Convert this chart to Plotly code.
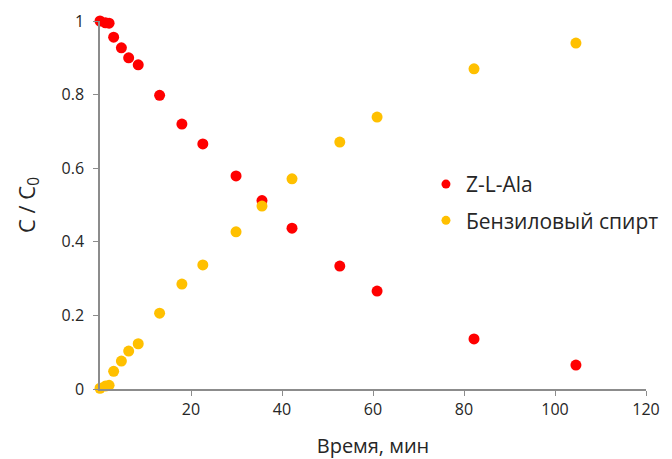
import plotly.graph_objects as go

time_min = [0, 1.2, 2.0, 3.0, 4.7, 6.3, 8.4, 13.1, 18.0, 22.6, 29.9, 35.6, 42.2, 52.7, 60.9, 82.2, 104.6]
z_l_ala = [1.0, 0.995, 0.994, 0.956, 0.927, 0.900, 0.881, 0.798, 0.720, 0.666, 0.579, 0.512, 0.437, 0.334, 0.266, 0.136, 0.065]
benzyl = [0.002, 0.008, 0.010, 0.048, 0.076, 0.103, 0.123, 0.206, 0.285, 0.337, 0.427, 0.497, 0.571, 0.671, 0.739, 0.870, 0.940]
series_names = ["Z-L-Ala", "Бензиловый спирт"]
series_colors = ["#FF0000", "#FFC000"]
x_ticks = [20, 40, 60, 80, 100, 120]
y_ticks = [0, 0.2, 0.4, 0.6, 0.8, 1]
y_tick_text = ["0", "0.2", "0.4", "0.6", "0.8", "1"]

fig = go.Figure()
for vals, name, color in zip([z_l_ala, benzyl], series_names, series_colors):
    fig.add_trace(go.Scatter(x=time_min, y=vals, mode="markers", name=name, showlegend=False,
                             marker=dict(color=color, size=11), cliponaxis=False))
for name, color in zip(series_names, series_colors):
    fig.add_trace(go.Scatter(x=[None], y=[None], mode="markers", name=name, legendgroup=name,
                             marker=dict(color=color, size=9)))

axis_common = dict(showgrid=False, zeroline=False, showline=True, linecolor="#8c8c8c", linewidth=1.5,
                   ticks="outside", ticklen=5, tickcolor="#8c8c8c", automargin=False,
                   tickfont=dict(size=16, color="#262626"))
fig.update_xaxes(range=[0, 120], tickvals=x_ticks,
                 title=dict(text="Время, мин", font=dict(size=20, color="#262626"), standoff=20), **axis_common)
fig.update_yaxes(range=[0, 1], tickvals=y_ticks, ticktext=y_tick_text, ticklabelstandoff=6,
                 title=dict(text="C / C<sub>0</sub>", font=dict(size=22, color="#262626"), standoff=20), **axis_common)

fig.update_layout(
    width=672, height=459,
    margin=dict(l=92, r=34, t=13, b=78),
    plot_bgcolor="white", paper_bgcolor="white",
    font=dict(family="Open Sans, sans-serif", color="#262626"),
    legend=dict(x=0.597, y=0.507, xanchor="left", yanchor="middle", font=dict(size=21, color="#262626"),
                itemsizing="trace", tracegroupgap=6, itemwidth=30, bgcolor="rgba(0,0,0,0)"),
)
fig.write_html("out.html")
